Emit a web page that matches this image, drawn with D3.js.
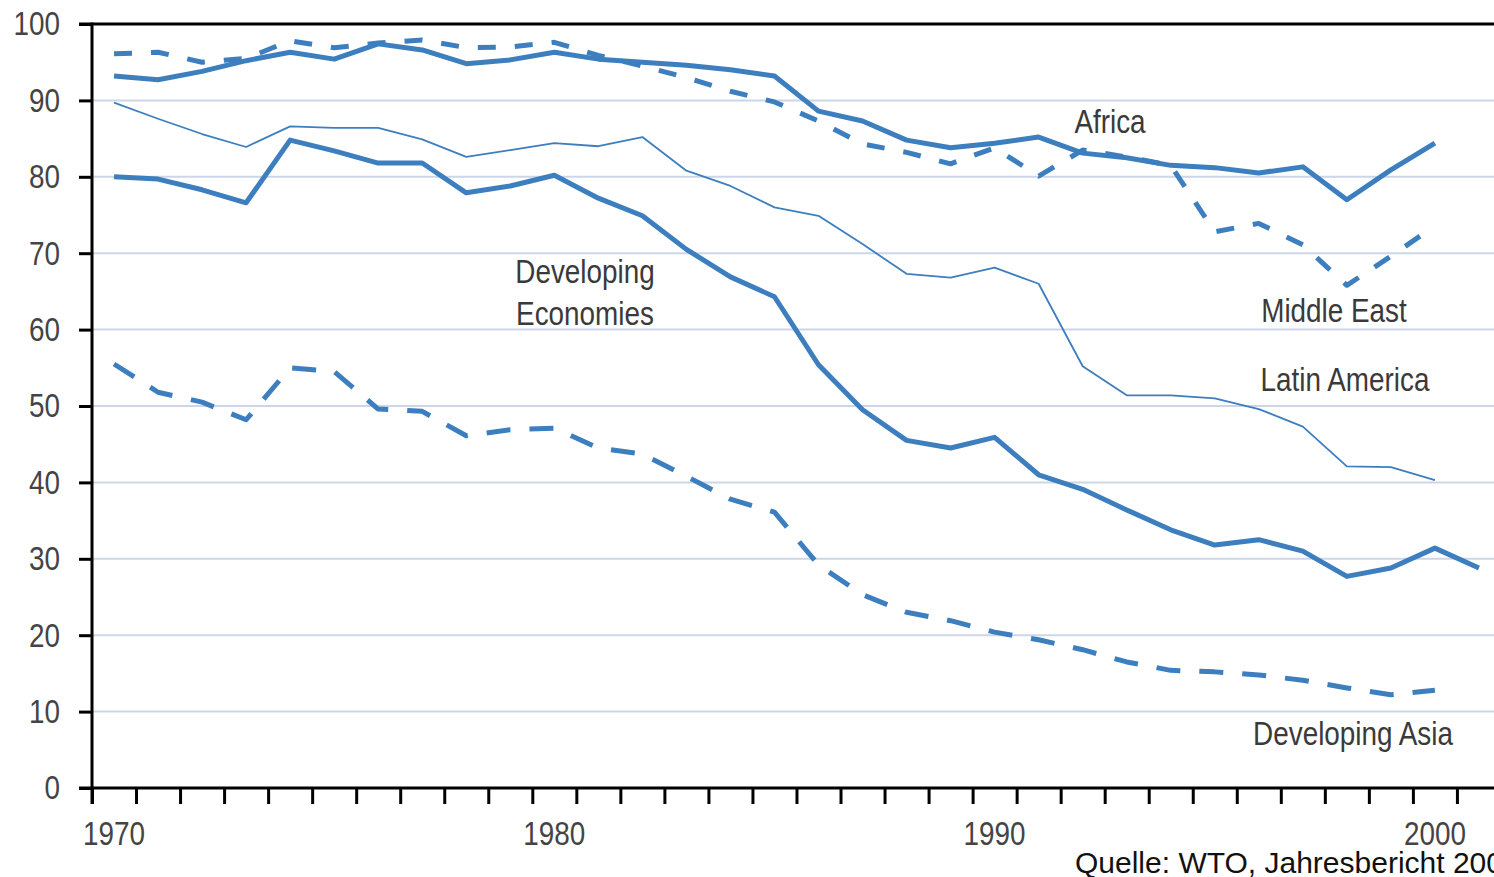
<!DOCTYPE html>
<html>
<head>
<meta charset="utf-8">
<script src="https://cdn.jsdelivr.net/npm/d3@7"></script>
<style>
  body { margin: 0; background: #fff; overflow: hidden; }
  svg { display: block; }
</style>
</head>
<body>
<script>
// jahre (kategorien)
var years = [1970, 1971, 1972, 1973, 1974, 1975, 1976, 1977, 1978, 1979,
             1980, 1981, 1982, 1983, 1984, 1985, 1986, 1987, 1988, 1989,
             1990, 1991, 1992, 1993, 1994, 1995, 1996, 1997, 1998, 1999,
             2000, 2001]

var yearLabels = [1970, 1980, 1990, 2000]
var yTicks = [0, 10, 20, 30, 40, 50, 60, 70, 80, 90, 100]

// werte in prozent
var africa = [93.2, 92.7, 93.8, 95.2, 96.3, 95.4, 97.4, 96.6, 94.8, 95.3,
              96.3, 95.4, 95.0, 94.6, 94.0, 93.2, 88.6, 87.3, 84.8, 83.8,
              84.4, 85.2, 83.1, 82.5, 81.5, 81.2, 80.5, 81.3, 77.0, 80.9,
              84.4]

var middleEast = [96.1, 96.3, 95.0, 95.5, 97.8, 96.9, 97.5, 97.9, 96.9, 97.0,
                  97.6, 95.9, 94.5, 93.0, 91.2, 89.8, 87.3, 84.3, 83.2, 81.7,
                  83.8, 80.1, 83.5, 82.6, 81.5, 72.8, 73.9, 71.1, 65.8, 69.6,
                  73.6]

var latinAmerica = [89.7, 87.6, 85.6, 83.9, 86.6, 86.4, 86.4, 84.9, 82.6, 83.5,
                    84.4, 84.0, 85.2, 80.8, 78.8, 76.0, 74.9, 71.2, 67.3, 66.8,
                    68.1, 66.0, 55.2, 51.4, 51.4, 51.0, 49.6, 47.3, 42.1, 42.0,
                    40.3]

var developingEconomies = [80.0, 79.7, 78.3, 76.6, 84.8, 83.4, 81.8, 81.8, 77.9, 78.8,
                           80.2, 77.2, 74.9, 70.5, 66.9, 64.3, 55.4, 49.5, 45.5, 44.5,
                           45.9, 41.0, 39.1, 36.4, 33.8, 31.8, 32.5, 31.0, 27.7, 28.8,
                           31.4, 28.8]

var developingAsia = [55.5, 51.8, 50.5, 48.2, 55.0, 54.5, 49.6, 49.3, 46.1, 46.9,
                      47.1, 44.5, 43.7, 40.8, 37.8, 36.1, 29.2, 25.3, 23.0, 21.9,
                      20.4, 19.4, 18.1, 16.5, 15.4, 15.2, 14.8, 14.1, 13.1, 12.2,
                      12.8]

var width = 1494
var height = 877
var blau = "#3d7ebe"
// schmale schrift: Liberation Sans horizontal gestaucht
var labelFont = "'Liberation Sans', Arial, sans-serif"
var squeeze = " scale(0.82,1)"

var escalaX = d3.scaleLinear()
    .domain([1970, 2002])
    .range([92, 92 + 32 * 44.03])

var escalaY = d3.scaleLinear()
    .domain([0, 100])
    .range([788, 24])

var svg = d3.select("body")
    .append("svg")
    .attr("width", width)
    .attr("height", height)

// gitternetz
svg.append("g")
    .selectAll("line")
    .data(yTicks.filter(d => d > 0 && d < 100))
    .enter()
    .append("line")
    .attr("x1", escalaX(1970))
    .attr("x2", width)
    .attr("y1", d => escalaY(d))
    .attr("y2", d => escalaY(d))
    .attr("stroke", "#cdd6e9")
    .attr("stroke-width", 2)

// linien
var series = [
    {name: "Latin America", values: latinAmerica, w: 1.8, dash: null},
    {name: "Developing Asia", values: developingAsia, w: 5, dash: "24,19"},
    {name: "Middle East", values: middleEast, w: 5, dash: "18,19"},
    {name: "Developing Economies", values: developingEconomies, w: 5, dash: null},
    {name: "Africa", values: africa, w: 5, dash: null}
]

var linea = d3.line()
    .x((d, i) => escalaX(years[i] + 0.5))
    .y(d => escalaY(d))

svg.append("g")
    .selectAll("path")
    .data(series)
    .enter()
    .append("path")
    .attr("d", d => linea(d.values))
    .attr("fill", "none")
    .attr("stroke", blau)
    .attr("stroke-width", d => d.w)
    .attr("stroke-dasharray", d => d.dash)
    .attr("stroke-linejoin", "round")

// eje Y
var ejeY = d3.axisLeft(escalaY)
    .tickValues(yTicks)
    .tickSize(13)
    .tickPadding(19)
    .tickFormat(d3.format("d"))

var gY = svg.append("g")
    .attr("transform", "translate(" + escalaX(1970) + ",0)")
    .call(ejeY)
gY.select(".domain").remove()
gY.selectAll(".tick line").attr("stroke", "#000").attr("stroke-width", 3)
gY.selectAll(".tick text")
    .attr("x", 0)
    .attr("transform", "translate(-32,0)" + squeeze)
    .attr("fill", "#444")
    .style("font-family", labelFont)
    .style("font-size", "34px")

// eje X (ticks an jahresgrenzen)
var ejeX = d3.axisBottom(escalaX)
    .tickValues(years)
    .tickSize(16)
    .tickFormat("")

var gX = svg.append("g")
    .attr("transform", "translate(0," + escalaY(0) + ")")
    .call(ejeX)
gX.select(".domain").remove()
gX.selectAll(".tick line").attr("stroke", "#000").attr("stroke-width", 3)

svg.append("g")
    .selectAll("text")
    .data(yearLabels)
    .enter()
    .append("text")
    .attr("transform", d => "translate(" + escalaX(d + 0.5) + ",845)" + squeeze)
    .attr("text-anchor", "middle")
    .attr("fill", "#444")
    .style("font-family", labelFont)
    .style("font-size", "34px")
    .text(d => d)

// rahmen: achsenlinien
svg.append("line")
    .attr("x1", 79).attr("x2", width)
    .attr("y1", escalaY(100)).attr("y2", escalaY(100))
    .attr("stroke", "#000").attr("stroke-width", 3)
svg.append("line")
    .attr("x1", 79).attr("x2", width)
    .attr("y1", escalaY(0)).attr("y2", escalaY(0))
    .attr("stroke", "#000").attr("stroke-width", 3)
svg.append("line")
    .attr("x1", escalaX(1970)).attr("x2", escalaX(1970))
    .attr("y1", escalaY(100) - 1.5).attr("y2", escalaY(0) + 16)
    .attr("stroke", "#000").attr("stroke-width", 3)

// beschriftungen
var etiquetas = [
    {lines: ["Africa"], x: 1110, y: 133},
    {lines: ["Middle East"], x: 1334, y: 322},
    {lines: ["Latin America"], x: 1345, y: 391},
    {lines: ["Developing", "Economies"], x: 585, y: 283},
    {lines: ["Developing Asia"], x: 1353, y: 745}
]

etiquetas.forEach(function (e) {
    var t = svg.append("text")
        .attr("transform", "translate(" + e.x + "," + e.y + ")" + squeeze)
        .attr("text-anchor", "middle")
        .attr("fill", "#3a3a3a")
        .style("font-family", labelFont)
        .style("font-size", "34px")
    e.lines.forEach(function (l, i) {
        t.append("tspan")
            .attr("x", 0)
            .attr("y", i * 42)
            .text(l)
    })
})

// quelle
svg.append("text")
    .attr("x", 1075)
    .attr("y", 873)
    .attr("fill", "#111")
    .style("font-family", "'Liberation Sans', Arial, sans-serif")
    .style("font-size", "30px")
    .text("Quelle: WTO, Jahresbericht 2002")
</script>
</body>
</html>
